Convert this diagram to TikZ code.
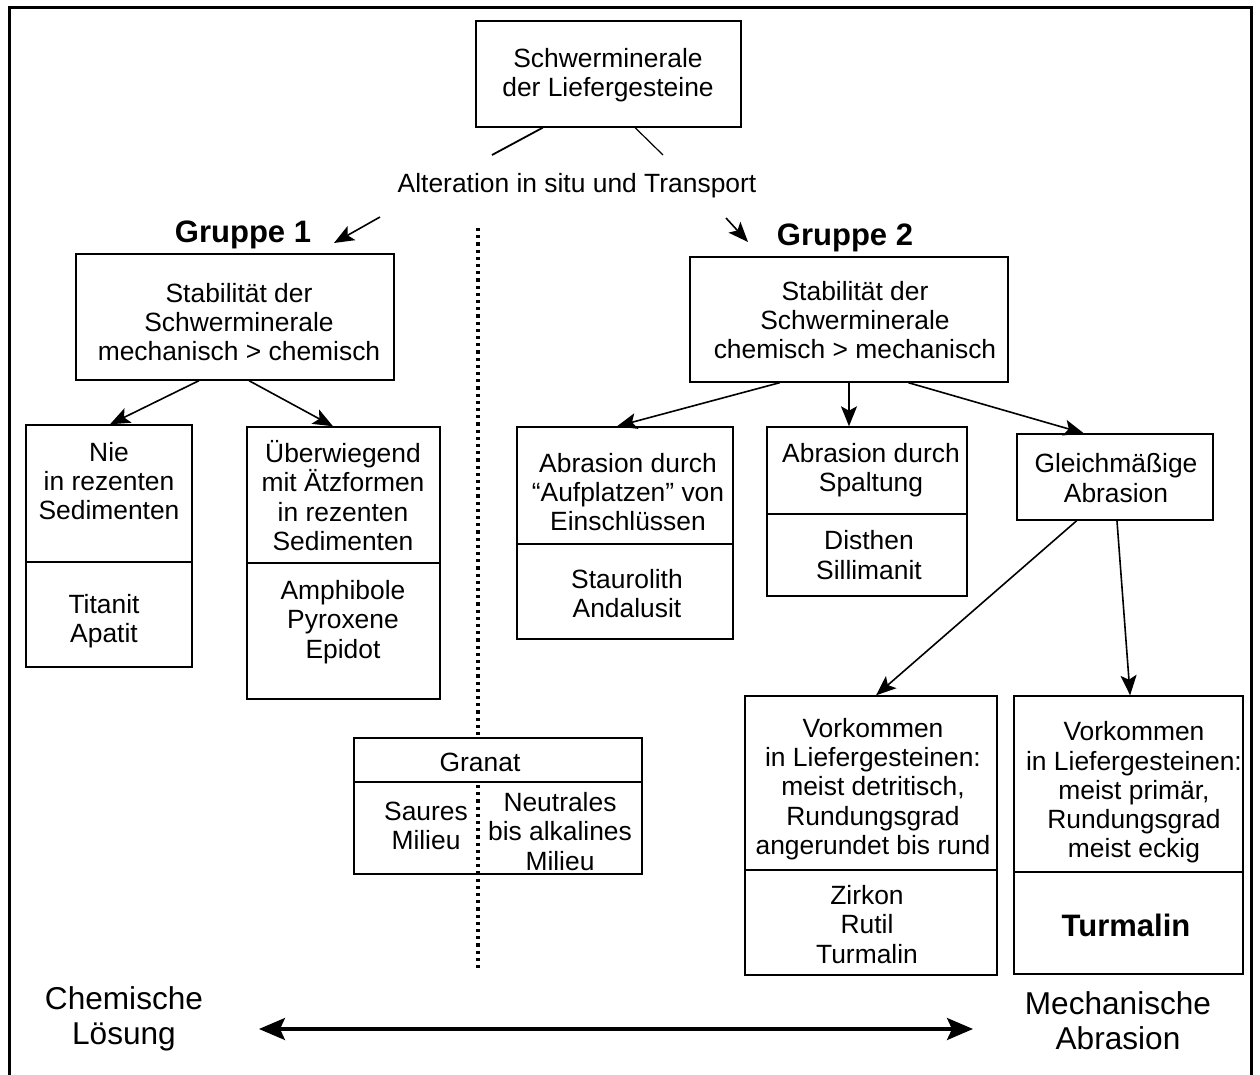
\documentclass[tikz,border=0pt]{standalone}
\usepackage{fontspec}
\setmainfont{Liberation Sans}
\usetikzlibrary{arrows.meta,calc}
\begin{document}
\begin{tikzpicture}[x=0.5pt,y=-0.5pt,
  box/.style={draw,line width=0.7pt,inner sep=0pt},
  txt/.style={inner sep=0pt,align=center,font=\fontsize{13.2}{14.6}\selectfont},
  bld/.style={inner sep=0pt,align=center,font=\fontsize{15.5}{17}\selectfont\bfseries},
  big/.style={inner sep=0pt,align=center,font=\fontsize{15.8}{17.5}\selectfont},
  arr/.style={line width=0.8pt,-{Stealth[length=10pt,width=8pt,inset=2.2pt]}},
  plain/.style={line width=0.7pt},
  dots/.style={line width=1.6pt,dash pattern=on 1.6pt off 2pt},
  divider/.style={line width=0.7pt}]
\useasboundingbox (0,0) rectangle (1260,1075);
% frame
\draw[line width=1.5pt] (9,1075) -- (9,8) -- (1251,8) -- (1251,1075);

% boxes
\node[box,minimum width=132.5pt,minimum height=53pt] (top) at (608.5,74) {};
\node[box,minimum width=159pt,minimum height=63pt] (g1) at (235,317) {};
\node[box,minimum width=83pt,minimum height=121pt] (nie) at (109,546) {};
\node[box,minimum width=96.5pt,minimum height=136pt] (ueb) at (343.5,563) {};
\node[box,fill=white,minimum width=144pt,minimum height=68pt] (granat) at (498,806) {};
\node[box,minimum width=159pt,minimum height=62.5pt] (g2) at (849,319.5) {};
\node[box,minimum width=108pt,minimum height=106pt] (auf) at (625,533) {};
\node[box,minimum width=100pt,minimum height=84.5pt] (spa) at (867,511.5) {};
\node[box,minimum width=98pt,minimum height=43pt] (gle) at (1115,477) {};
\node[box,minimum width=126pt,minimum height=139.5pt] (vk1) at (871,835.5) {};
\node[box,minimum width=114.5pt,minimum height=139pt] (vk2) at (1128.5,835) {};

% dividers
\draw[divider] (nie.west |- 0,562) -- (nie.east |- 0,562);
\draw[divider] (ueb.west |- 0,563) -- (ueb.east |- 0,563);
\draw[divider] (granat.west |- 0,782) -- (granat.east |- 0,782);
\draw[divider] (auf.west |- 0,544) -- (auf.east |- 0,544);
\draw[divider] (spa.west |- 0,514) -- (spa.east |- 0,514);
\draw[divider] (vk1.west |- 0,870) -- (vk1.east |- 0,870);
\draw[divider] (vk2.west |- 0,872) -- (vk2.east |- 0,872);

% dotted separator
\coordinate (dtop) at (478,228);
\coordinate (dbot) at (478,970);
\draw[dots] (dtop) -- (dtop |- granat.north);
\draw[dots] (dtop |- 0,785) -- (dbot);

% texts
\node[txt] (toptxt) at (608,75) {Schwerminerale\\der Liefergesteine};
\node[txt] (alt) at (577,186) {Alteration in situ und Transport};
\node[bld] (grp1) at (243,235) {Gruppe 1};
\node[bld] (grp2) at (845,238) {Gruppe 2};
\node[txt] (g1t) at (239,322) {Stabilität der\\Schwerminerale\\mechanisch > chemisch};
\node[txt] (niet) at (109,481) {Nie\\in rezenten\\Sedimenten};
\node[txt] (nieb) at (104,621) {Titanit\\Apatit};
\node[txt] (uebt) at (343,495.5) {Überwiegend\\mit Ätzformen\\in rezenten\\Sedimenten};
\node[txt] (uebb) at (343,622) {Amphibole\\Pyroxene\\Epidot};
\node[txt] (grt) at (480,762) {Granat};
\node[txt] (grl) at (426,826) {Saures\\Milieu};
\node[txt] (grr) at (560,831.5) {Neutrales\\bis alkalines\\Milieu};
\node[txt] (g2t) at (855,320) {Stabilität der\\Schwerminerale\\chemisch > mechanisch};
\node[txt] (auft) at (628,492) {Abrasion durch\\“Aufplatzen” von\\Einschlüssen};
\node[txt] (aufb) at (627,593.5) {Staurolith\\Andalusit};
\node[txt] (spat) at (871,470) {Abrasion durch\\Spaltung};
\node[txt] (spab) at (869,555) {Disthen\\Sillimanit};
\node[txt] (glet) at (1116,478) {Gleichmäßige\\Abrasion};
\node[txt] (vk1t) at (873,789) {Vorkommen\\in Liefergesteinen:\\meist detritisch,\\Rundungsgrad\\angerundet bis rund};
\node[txt] (vk1b) at (867,924.5) {Zirkon\\Rutil\\Turmalin};
\node[txt] (vk2t) at (1134,792.5) {Vorkommen\\in Liefergesteinen:\\meist primär,\\Rundungsgrad\\meist eckig};
\node[bld] (vk2b) at (1126,925) {Turmalin};
\node[big] (chem) at (124,1019) {Chemische\\Lösung};
\node[big] (mech) at (1118,1021) {Mechanische\\Abrasion};

% lines from top box
\coordinate (l1) at (492,155);
\coordinate (l2) at (663,155);
\draw[plain,line width=0.9pt] ($(top.south west)!0.253!(top.south east)$) -- (l1);
\draw[plain,line width=0.6pt] ($(top.south west)!0.6!(top.south east)$) -- (l2);

% arrows to groups
\coordinate (a1s) at (380,217);
\coordinate (a1e) at (334,243);
\coordinate (a2s) at (726,218);
\coordinate (a2e) at (748,242);
\draw[arr] (a1s) -- (a1e);
\draw[arr] (a2s) -- (a2e);

% group 1 arrows
\draw[arr] ($(g1.south west)!0.387!(g1.south east)$) -- ($(nie.north west)!0.506!(nie.north east)$);
\draw[arr] ($(g1.south west)!0.544!(g1.south east)$) -- ($(ueb.north west)!0.446!(ueb.north east)$);

% group 2 arrows
\draw[arr] ($(g2.south west)!0.283!(g2.south east)$) -- ($(auf.north west)!0.463!(auf.north east)$);
\draw[arr] (g2.south) -- (g2.south |- spa.north);
\draw[arr] ($(g2.south west)!0.686!(g2.south east)$) -- ($(gle.north west)!0.342!(gle.north east)$);

% from Gleichmaessige
\draw[arr] ($(gle.south west)!0.306!(gle.south east)$) -- ($(vk1.north west)!0.52!(vk1.north east)$);
\draw[arr] ($(gle.south west)!0.51!(gle.south east)$) -- ($(vk2.north west)!0.507!(vk2.north east)$);

% bottom double arrow
\coordinate (ba) at (259,1029);
\coordinate (bb) at (973,1029);
\draw[line width=1.6pt,{Stealth[length=13pt,width=11pt,inset=2.5pt]}-{Stealth[length=13pt,width=11pt,inset=2.5pt]}] (ba) -- (bb);
\end{tikzpicture}
\end{document}
